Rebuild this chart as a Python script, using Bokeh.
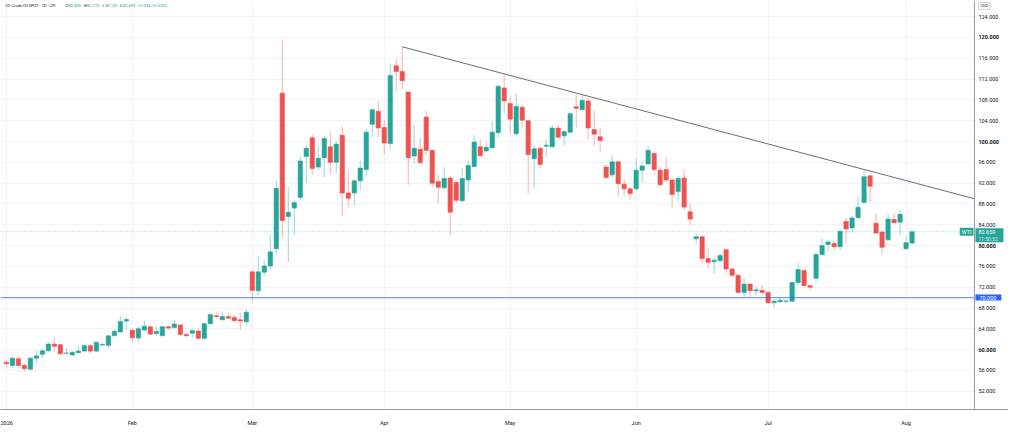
from bokeh.plotting import figure
from bokeh.models import (ColumnDataSource, FixedTicker, Span, Label, Range1d,
                          BoxAnnotation)
from bokeh.core.properties import value
from bokeh.embed import file_html
from bokeh.resources import INLINE

# ---------------- data ----------------
opens = [
    57.6, 56.96, 58.25, 57.02, 56.22, 58.37, 59.11, 59.78, 61.07, 60.95,
    59.3, 58.98, 59.42, 59.72, 60.77, 59.72, 60.9, 60.83, 62.67, 63.4,
    65.5, 63.71, 62.24, 63.77, 64.39, 63.1, 62.67, 64.39, 64.27, 64.76,
    62.92, 63.16, 63.59, 62.18, 65.0, 66.54, 65.74, 66.35, 66.17, 65.74,
    65.37, 74.95, 71.3, 74.9, 76.1, 79.4, 109.3, 85.6, 87.2, 89.25,
    97.1, 100.7, 95.1, 96.9, 99.0, 96.0, 101.2, 90.1, 90.1, 92.45,
    94.6, 103.3, 105.8, 102.7, 99.6, 114.55, 113.45, 109.5, 97.2, 98.5,
    104.7, 98.3, 92.3, 91.1, 93.0, 92.1, 88.6, 92.6, 95.2, 99.0,
    98.2, 98.8, 101.7, 110.3, 107.3, 101.5, 106.6, 104.0, 96.7, 98.7,
    99.1, 99.0, 102.6, 101.1, 101.8, 106.7, 106.1, 107.8, 102.3, 100.9,
    95.1, 93.6, 96.1, 91.8, 90.9, 90.9, 94.5, 95.7, 97.7, 94.5,
    94.6, 92.6, 90.4, 93.0, 86.5, 81.3, 81.7, 77.5, 76.9, 77.1,
    79.2, 75.5, 74.3, 71.0, 72.6, 71.3, 71.4, 71.0, 69.0, 69.2,
    69.3, 69.3, 72.9, 75.2, 72.3, 73.7, 78.3, 80.2, 80.4, 79.8,
    84.65, 83.4, 85.4, 88.3, 93.4, 84.3, 82.6, 81.1, 85.0, 84.5,
    79.4, 80.495]
highs = [
    57.9, 58.68, 58.86, 57.14, 58.62, 59.72, 60.1, 61.3, 62.36, 61.1,
    60.2, 59.7, 60.64, 60.95, 60.95, 61.57, 61.3, 62.8, 63.9, 66.48,
    66.23, 64.02, 64.4, 65.56, 64.63, 64.5, 64.63, 64.63, 65.74, 64.88,
    63.28, 63.9, 63.9, 65.13, 66.97, 67.09, 67.34, 66.97, 66.66, 67.09,
    67.83, 75.3, 78.0, 77.2, 82.1, 92.5, 119.5, 91.3, 88.7, 97.1,
    99.3, 101.3, 99.3, 101.1, 101.9, 100.1, 102.9, 94.6, 92.7, 96.5,
    102.4, 106.4, 107.8, 104.1, 114.85, 115.8, 118.2, 109.6, 103.2, 100.8,
    105.9, 98.4, 93.7, 95.1, 93.4, 92.4, 94.9, 96.4, 101.2, 100.3,
    99.8, 103.9, 110.9, 112.9, 108.6, 109.2, 107.0, 104.1, 99.2, 99.2,
    100.4, 103.2, 103.2, 102.3, 105.7, 109.2, 108.9, 108.1, 106.0, 102.7,
    95.5, 97.5, 96.2, 92.8, 91.2, 96.8, 96.1, 99.1, 98.0, 95.2,
    96.9, 92.9, 93.3, 94.6, 88.1, 82.2, 81.9, 79.5, 77.7, 78.4,
    79.3, 75.8, 74.5, 73.7, 72.7, 72.0, 72.4, 71.3, 69.7, 70.0,
    69.7, 73.0, 76.7, 75.3, 72.5, 78.6, 81.5, 81.0, 81.0, 82.9,
    85.3, 85.7, 89.4, 94.5, 93.6, 86.3, 82.8, 86.1, 86.3, 86.9,
    81.7, 82.77]
lows = [
    56.7, 56.41, 56.53, 55.79, 56.1, 57.57, 58.37, 59.6, 59.6, 58.86,
    59.0, 58.86, 59.3, 59.6, 59.3, 59.6, 60.7, 60.34, 62.55, 63.28,
    63.9, 61.44, 61.32, 63.59, 62.8, 62.67, 62.55, 63.9, 64.02, 62.67,
    62.49, 62.36, 61.93, 62.06, 64.88, 66.05, 65.56, 65.86, 65.25, 63.71,
    64.94, 69.4, 70.5, 74.1, 75.3, 78.4, 81.4, 76.8, 81.9, 88.7,
    92.0, 93.7, 94.5, 93.1, 93.7, 94.0, 85.7, 87.5, 87.6, 90.6,
    93.4, 100.8, 100.7, 97.5, 98.4, 109.6, 110.0, 91.6, 95.8, 95.7,
    97.4, 91.4, 88.0, 90.9, 81.8, 88.2, 88.4, 90.3, 95.1, 96.9,
    98.0, 98.6, 100.7, 105.5, 101.5, 101.2, 102.6, 90.0, 91.0, 94.8,
    97.0, 98.9, 100.7, 99.2, 101.7, 102.6, 106.0, 100.4, 99.2, 98.0,
    92.8, 93.1, 89.4, 89.6, 88.8, 90.6, 92.2, 95.5, 93.6, 91.4,
    92.2, 87.2, 88.4, 86.8, 84.0, 80.3, 76.6, 75.7, 74.6, 76.9,
    74.7, 73.9, 70.9, 70.1, 70.1, 70.5, 70.4, 68.8, 68.1, 69.0,
    68.9, 69.2, 72.3, 72.2, 71.4, 72.9, 78.0, 78.9, 79.1, 79.1,
    80.5, 82.5, 85.3, 88.2, 88.4, 82.3, 78.4, 81.0, 84.3, 81.9,
    79.1, 80.141]
closes = [
    57.3, 58.37, 56.96, 56.35, 58.37, 58.8, 59.78, 61.07, 60.64, 59.23,
    59.35, 59.48, 59.72, 60.77, 59.72, 61.44, 61.0, 62.67, 63.53, 65.43,
    65.8, 62.3, 64.02, 64.51, 62.98, 63.47, 64.39, 64.14, 64.94, 62.92,
    62.67, 63.65, 62.18, 65.0, 66.72, 66.35, 66.35, 66.05, 65.56, 65.49,
    67.21, 71.4, 74.95, 76.1, 78.8, 91.0, 84.8, 86.4, 88.3, 96.25,
    98.7, 94.8, 96.8, 100.6, 96.0, 99.5, 90.1, 89.1, 92.45, 94.9,
    101.8, 106.1, 102.6, 99.7, 112.7, 113.45, 111.7, 96.9, 98.7, 95.9,
    98.3, 92.0, 91.2, 92.9, 86.4, 88.7, 92.9, 95.4, 99.9, 97.3,
    98.9, 101.8, 110.6, 107.8, 104.3, 106.75, 104.1, 97.5, 98.6, 95.6,
    99.3, 102.6, 100.8, 101.9, 105.35, 106.4, 107.9, 102.6, 101.4, 100.2,
    93.1, 96.1, 91.9, 90.9, 90.0, 94.5, 95.3, 98.3, 94.6, 91.7,
    92.6, 89.8, 92.9, 87.4, 85.1, 81.7, 77.5, 76.8, 77.2, 78.1,
    75.5, 74.3, 71.0, 72.6, 71.3, 71.5, 71.0, 69.0, 69.3, 69.5,
    69.35, 72.9, 75.4, 72.3, 72.0, 78.3, 80.0, 80.7, 79.8, 82.75,
    83.2, 85.3, 87.35, 93.25, 91.4, 82.4, 79.7, 85.1, 84.4, 86.0,
    80.565, 82.659]

month_idx = [0, 21, 41, 63, 84, 105, 127, 150]
month_labels = ["2026", "Feb", "Mar", "Apr", "May", "Jun", "Jul", "Aug"]
y_ticks = [52, 56, 60, 64, 68, 72, 76, 80, 84, 88, 92, 96, 100, 104, 108, 112, 116, 120, 124]
bold_ticks = [60, 80, 100, 120]
trend_x = [66, 161.4]
trend_y = [118.2, 89.0]
support_level = 70.0
last_price = 82.659
last_time = "11:50:52"
header_title = "US Crude Oil SPOT \u00b7 1D \u00b7 CFI"
header_ohlc = [("O", "80.495"), ("H", "82.770"), ("L", "80.141"), ("C", "82.659")]
header_change = "+2.094 (+2.60%)"

# ---------------- style / geometry ----------------
UP = "#26a69a"
DOWN = "#ef5350"
TXT = "#131722"
FONT = "Roboto"
W, H = 1008, 428
BB = 17
FH = H - BB
X0, AX, X1 = -0.98, 161.4, 167.08      # AX = edge of the price scale
Y0, Y1 = 48.5, 127.1
pxu = (Y1 - Y0) / FH                    # price units per pixel
pxb = (X1 - X0) / W                     # bars per pixel

idx = list(range(len(opens)))
colors = [UP if c >= o else DOWN for o, c in zip(opens, closes)]
src = ColumnDataSource(dict(
    x=idx, o=opens, h=highs, l=lows, c=closes,
    top=[max(o, c) for o, c in zip(opens, closes)],
    bottom=[min(o, c) for o, c in zip(opens, closes)],
    color=colors))

p = figure(width=W, height=H, output_backend="svg", toolbar_location=None,
           x_range=Range1d(X0, X1), y_range=Range1d(Y0, Y1),
           y_axis_location=None,
           min_border_left=0, min_border_top=0, min_border_right=0, min_border_bottom=BB)
p.outline_line_color = None
p.background_fill_color = "white"

# grids
p.xgrid.ticker = FixedTicker(ticks=month_idx)
p.ygrid.ticker = FixedTicker(ticks=y_ticks)
p.xgrid.grid_line_color = "#f0f3fa"
p.ygrid.grid_line_color = "#f0f3fa"

# time axis
xa = p.xaxis[0]
xa.ticker = FixedTicker(ticks=month_idx)
xa.major_label_overrides = {i: lab for i, lab in zip(month_idx, month_labels)}
xa.axis_line_color = "#9598a1"
xa.major_tick_line_color = None
xa.minor_tick_line_color = None
xa.major_label_text_font = FONT
xa.major_label_text_font_size = "5.5px"
xa.major_label_text_color = TXT
xa.major_label_standoff = 4

# candles
p.segment(x0="x", y0="l", x1="x", y1="h", line_color="color", line_alpha=0.45,
          line_width=1, source=src)
p.vbar(x="x", top="top", bottom="bottom", width=0.72, fill_color="color",
       line_color="color", line_width=0.6, source=src)

# trend line & levels
p.line(trend_x, trend_y, line_color="#6a6d78", line_width=1.0)
p.segment(x0=[X0], y0=[support_level], x1=[AX], y1=[support_level],
          line_color="#2962ff", line_alpha=0.65, line_width=1.2)
p.segment(x0=[X0], y0=[last_price], x1=[AX], y1=[last_price],
          line_color=UP, line_alpha=0.6, line_width=1, line_dash="1 2")

# price scale (right)
p.quad(left=[AX], right=[X1], bottom=[Y0], top=[Y1], fill_color="white",
       line_color=None)
tick_src = ColumnDataSource(dict(
    x=[AX] * len(y_ticks), y=y_ticks,
    text=[f"{t:.3f}" for t in y_ticks],
    style=["bold" if t in bold_ticks else "normal" for t in y_ticks]))
p.text(x="x", y="y", text="text", source=tick_src, x_offset=4,
       text_font=value(FONT), text_font_size=value("5.5px"), text_font_style="style",
       text_color=TXT, text_align="left", text_baseline="middle")
p.add_layout(Span(location=AX, dimension="height", line_color="#9598a1", line_width=1))

# header
HY = FH - 7
HF = "4px"
p.add_layout(Label(x=5, y=HY, x_units="screen", y_units="screen", text=header_title,
                   text_font=FONT, text_font_size=HF, text_color=TXT, text_baseline="middle"))
hx = [65, 83.5, 102, 119.5]
for (k, v), x0 in zip(header_ohlc, hx):
    p.add_layout(Label(x=x0, y=HY, x_units="screen", y_units="screen", text=k,
                       text_font=FONT, text_font_size=HF, text_color=TXT,
                       text_baseline="middle"))
    p.add_layout(Label(x=x0 + 3, y=HY, x_units="screen", y_units="screen", text=v,
                       text_font=FONT, text_font_size=HF, text_color=UP,
                       text_baseline="middle"))
p.add_layout(Label(x=137.5, y=HY, x_units="screen", y_units="screen", text=header_change,
                   text_font=FONT, text_font_size=HF, text_color=UP, text_baseline="middle"))

# boxes on the price scale
p.add_layout(Label(x=AX, y=Y1 - 5.5 * pxu, x_offset=4, text="USD",
                   text_font=FONT, text_font_size="4px", text_color=TXT,
                   text_baseline="middle", border_line_color="#d1d4dc",
                   background_fill_color="white",
                   padding=dict(left=2, right=2, top=1, bottom=1)))
p.add_layout(Label(x=AX, y=support_level, x_offset=1, text=f"{support_level:.3f}",
                   text_font=FONT, text_font_size="5.5px", text_color="white",
                   text_baseline="middle", background_fill_color="#2962ff",
                   padding=dict(left=4, right=5, top=1, bottom=1)))
p.add_layout(BoxAnnotation(left=AX + 1 * pxb, right=AX + 29 * pxb,
                           top=last_price + 3.5 * pxu, bottom=last_price - 10.5 * pxu,
                           fill_color=UP, fill_alpha=1.0, line_color=None))
p.add_layout(Label(x=AX, y=last_price, x_offset=4, text=f"{last_price:.3f}",
                   text_font=FONT, text_font_size="5.5px", text_color="white",
                   text_baseline="middle"))
p.add_layout(Label(x=AX, y=last_price - 7 * pxu, x_offset=4, text=last_time,
                   text_font=FONT, text_font_size="5px", text_color="white",
                   text_alpha=0.85, text_baseline="middle"))
p.add_layout(Label(x=AX, y=last_price, x_offset=-1, text="WTI",
                   text_font=FONT, text_font_size="5.5px", text_color="white",
                   text_align="right", text_baseline="middle", background_fill_color=UP,
                   padding=dict(left=2, right=2, top=1, bottom=1)))

open("out.html", "w").write(file_html(p, INLINE))
